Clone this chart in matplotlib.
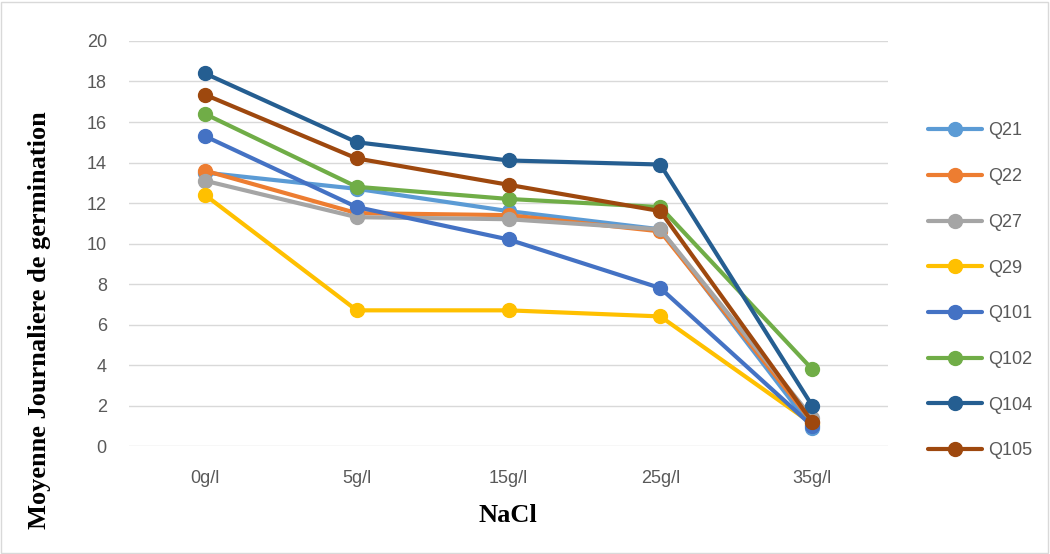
import numpy as np
import matplotlib
matplotlib.use("Agg")
import matplotlib.pyplot as plt
from matplotlib.patches import Rectangle

categories = ["0g/l", "5g/l", "15g/l", "25g/l", "35g/l"]
series_names = ["Q21", "Q22", "Q27", "Q29", "Q101", "Q102", "Q104", "Q105"]
q21 = [13.5, 12.7, 11.6, 10.7, 0.9]
q22 = [13.6, 11.5, 11.4, 10.6, 1.2]
q27 = [13.1, 11.3, 11.2, 10.7, 1.4]
q29 = [12.4, 6.7, 6.7, 6.4, 1.1]
q101 = [15.3, 11.8, 10.2, 7.8, 1.0]
q102 = [16.4, 12.8, 12.2, 11.8, 3.8]
q104 = [18.4, 15.0, 14.1, 13.9, 2.0]
q105 = [17.35, 14.2, 12.9, 11.6, 1.2]
colors = ["#5B9BD5", "#ED7D31", "#A5A5A5", "#FFC000",
          "#4472C4", "#70AD47", "#255E91", "#9E480E"]

all_series = [q21, q22, q27, q29, q101, q102, q104, q105]

fig = plt.figure(figsize=(10.5, 5.54), dpi=100)
ax = fig.add_axes([0.1229, 0.1949, 0.7228, 0.7311])

x = np.arange(len(categories))
for name, vals, c in zip(series_names, all_series, colors):
    ax.plot(x, vals, color=c, lw=3, marker="o", markersize=10,
            solid_capstyle="round", label=name)

ax.set_xlim(-0.5, len(categories) - 0.5)
ax.set_ylim(0, 20)
ax.set_yticks(range(0, 21, 2))
ax.set_xticks(x)
ax.set_xticklabels(categories)
ax.grid(axis="y", color="#D9D9D9", lw=1)
ax.set_axisbelow(True)
for s in ax.spines.values():
    s.set_visible(False)
ax.tick_params(axis="y", length=0, labelsize=13, labelcolor="#595959", pad=16)
ax.tick_params(axis="x", length=0, labelsize=13, labelcolor="#595959", pad=17)
for lbl in ax.get_xticklabels() + ax.get_yticklabels():
    lbl.set_family("Liberation Sans")

# axis titles placed like the Excel chart
fig.text(508 / 1050, 1 - 515 / 554, "NaCl", fontsize=19, fontweight="bold",
         family="Liberation Serif", ha="center", va="center")
fig.text(40 / 1050, 1 - 320 / 554, "Moyenne Journaliere de germination", fontsize=19,
         fontweight="bold", family="Liberation Serif", rotation=90,
         ha="center", va="center")

leg = fig.legend(loc="upper left", bbox_to_anchor=(0.877, 0.792), frameon=False,
                 prop={"family": "Liberation Sans", "size": 13}, labelspacing=1.59,
                 handlelength=3.0, handletextpad=0.33, borderaxespad=0)
for t in leg.get_texts():
    t.set_color("#595959")

fig.patches.append(Rectangle((0.001, 0.002), 0.997, 0.995, transform=fig.transFigure,
                             fill=False, edgecolor="#D9D9D9", lw=1))

fig.savefig("out.png", dpi=100)
